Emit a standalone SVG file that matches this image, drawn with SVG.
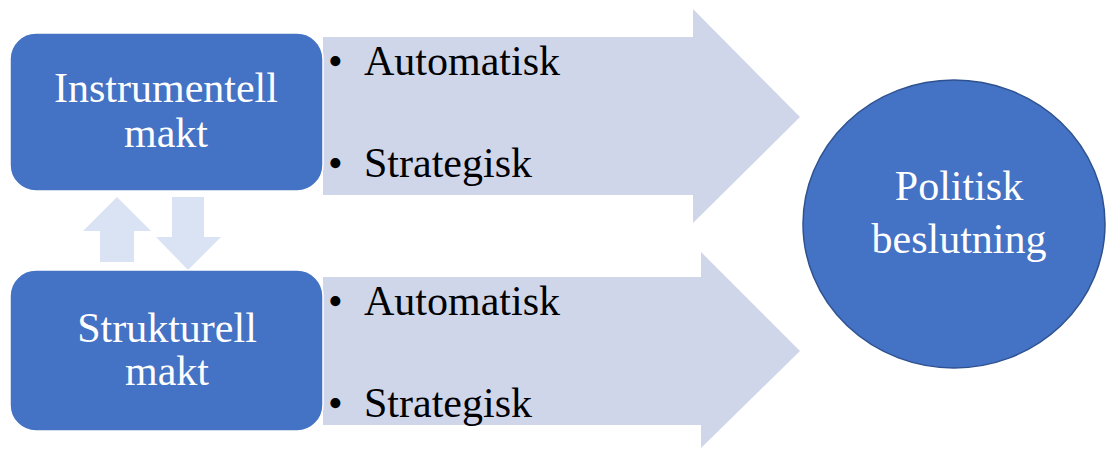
<svg xmlns="http://www.w3.org/2000/svg" width="1106" height="449" viewBox="0 0 1106 449">
<style>
.big{fill:#CFD6EA}
.small{fill:#DAE3F3}
.box{fill:#4472C4;stroke:#FFFFFF;stroke-width:1.5}
.circ{fill:#4472C4;stroke:#2F528F;stroke-width:1.5}
.w{font-family:"Liberation Serif","Times New Roman",serif;font-size:42px;fill:#FFFFFF;text-anchor:middle}
.b{font-family:"Liberation Serif","Times New Roman",serif;font-size:42px;fill:#000000}
</style>
<rect width="1106" height="449" fill="#FFFFFF"/>
<g id="connectors">
<path class="big" d="M323 37 H693 V9 L800 117 L693 223 V195 H323 Z"/>
<path class="big" d="M323 277 H701 V252 L800 351 L701 448 V425 H323 Z"/>
<path class="small" d="M117 197 L151 231 H134 V262 H100 V231 H83 Z"/>
<path class="small" d="M172 197 H204 V237 H221 L188 270 L156 237 H172 Z"/>
</g>
<g id="bullets-top">
<text class="b" x="328" y="75">•</text>
<text class="b" x="364" y="75">Automatisk</text>
<text class="b" x="328" y="177">•</text>
<text class="b" x="364" y="177">Strategisk</text>
</g>
<g id="bullets-bottom">
<text class="b" x="328" y="315">•</text>
<text class="b" x="364" y="315">Automatisk</text>
<text class="b" x="328" y="417">•</text>
<text class="b" x="364" y="417">Strategisk</text>
</g>
<g id="instrumentell">
<rect class="box" x="10" y="33" width="313" height="158" rx="26"/>
<text class="w" x="166" y="102">Instrumentell</text>
<text class="w" x="166" y="147">makt</text>
</g>
<g id="strukturell">
<rect class="box" x="10" y="270" width="313" height="161" rx="26"/>
<text class="w" x="167" y="342">Strukturell</text>
<text class="w" x="167" y="385">makt</text>
</g>
<g id="politisk">
<ellipse class="circ" cx="954" cy="224" rx="151" ry="144"/>
<text class="w" x="959" y="200">Politisk</text>
<text class="w" x="959" y="253">beslutning</text>
</g>
</svg>
